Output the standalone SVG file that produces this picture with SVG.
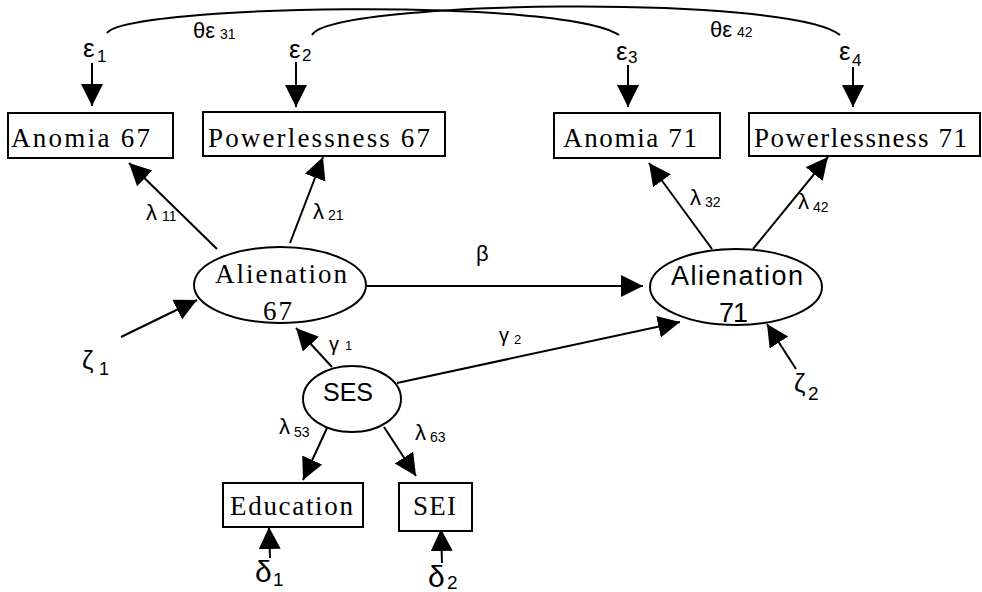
<svg xmlns="http://www.w3.org/2000/svg" width="982" height="592" viewBox="0 0 982 592">
<defs>
<style>
.box{fill:#fff;stroke:#000;stroke-width:2}
.ell{fill:#fff;stroke:#000;stroke-width:2}
.ser{font-family:"Liberation Serif","Times New Roman",serif;font-size:27px;fill:#000}
.san{font-family:"Liberation Sans",Arial,sans-serif;fill:#000}
.gk{font-family:"Liberation Sans","DejaVu Sans",Arial,sans-serif;fill:#000}
.ln{stroke:#000;stroke-width:2;fill:none}
.arr{stroke:#000;stroke-width:2;fill:none;marker-end:url(#ah)}
</style>
<marker id="ah" markerUnits="userSpaceOnUse" markerWidth="24" markerHeight="24" refX="22" refY="11" orient="auto">
<path d="M0,0 L22,11 L0,22 z" fill="#000"/>
</marker>
</defs>
<rect width="982" height="592" fill="#fff"/>

<g id="connectors">
<path class="ln" d="M107,33 C125,5 560,-3 619,35"/>
<path class="ln" d="M312,35 C330,0 790,-6 840,35"/>
<line class="arr" x1="92" y1="63" x2="92" y2="106"/>
<line class="arr" x1="296" y1="62" x2="296" y2="107"/>
<line class="arr" x1="628" y1="65" x2="628" y2="107"/>
<line class="arr" x1="853" y1="67" x2="853" y2="107"/>
<line class="arr" x1="217" y1="249" x2="129" y2="163"/>
<line class="arr" x1="290" y1="243" x2="323" y2="157"/>
<line class="arr" x1="712" y1="249" x2="649" y2="163"/>
<line class="arr" x1="753" y1="249" x2="828" y2="157"/>
<line class="arr" x1="366" y1="286" x2="643" y2="286"/>
<line class="arr" x1="397" y1="383" x2="680" y2="322"/>
<line class="arr" x1="332" y1="367" x2="296" y2="328"/>
<line class="arr" x1="121" y1="337" x2="197" y2="300"/>
<line class="arr" x1="796" y1="369" x2="767" y2="324"/>
<line class="arr" x1="327" y1="428" x2="303" y2="480"/>
<line class="arr" x1="384" y1="427" x2="416" y2="476"/>
<line class="arr" x1="270" y1="558" x2="269" y2="527"/>
<line class="arr" x1="442" y1="563" x2="441" y2="529"/>
</g>

<g id="anomia67"><rect class="box" x="8" y="113" width="165" height="45"/><text class="ser" x="11" y="147" textLength="139" lengthAdjust="spacing">Anomia 67</text></g>
<g id="powerlessness67"><rect class="box" x="203" y="112" width="242" height="44"/><text class="ser" x="208" y="147" textLength="222" lengthAdjust="spacing">Powerlessness 67</text></g>
<g id="anomia71"><rect class="box" x="554" y="113" width="166" height="45"/><text class="ser" x="563" y="147" textLength="134" lengthAdjust="spacing">Anomia 71</text></g>
<g id="powerlessness71"><rect class="box" x="749" y="113" width="231" height="43"/><text class="ser" x="754" y="147" textLength="213" lengthAdjust="spacing">Powerlessness 71</text></g>
<g id="education"><rect class="box" x="223" y="483" width="140" height="44"/><text class="ser" x="230" y="515" textLength="123" lengthAdjust="spacing">Education</text></g>
<g id="sei"><rect class="box" x="399" y="483" width="73" height="48"/><text class="ser" x="413" y="515" textLength="43" lengthAdjust="spacing">SEI</text></g>

<g id="alienation67"><ellipse class="ell" cx="280" cy="285" rx="86" ry="38"/><text class="ser" x="215" y="283" textLength="132" lengthAdjust="spacing">Alienation</text><text class="ser" x="263" y="320" textLength="29" lengthAdjust="spacing">67</text></g>
<g id="alienation71"><ellipse class="ell" cx="736" cy="287" rx="86" ry="38"/><text class="san" font-size="27" x="671" y="285" textLength="132" lengthAdjust="spacing">Alienation</text><text class="san" font-size="27" x="719" y="322" textLength="29" lengthAdjust="spacing">71</text></g>
<g id="ses"><ellipse class="ell" cx="352" cy="399" rx="49" ry="33"/><text class="san" font-size="26" x="323" y="401" textLength="50" lengthAdjust="spacingAndGlyphs">SES</text></g>

<g id="labels" class="gk">
<text x="83" y="57" font-size="26">ε<tspan x="97" y="62" font-size="17">1</tspan></text>
<text x="289" y="58" font-size="26">ε<tspan x="302" y="61" font-size="17">2</tspan></text>
<text x="616" y="60" font-size="26">ε<tspan x="628" y="63" font-size="17">3</tspan></text>
<text x="839" y="60" font-size="26">ε<tspan x="852" y="66" font-size="17">4</tspan></text>
<text x="193" y="38" font-size="22">θε<tspan x="220" y="39" font-size="14">31</tspan></text>
<text x="710" y="37" font-size="22">θε<tspan x="737" y="37" font-size="14">42</tspan></text>
<text x="146" y="220" font-size="22">λ<tspan x="162" y="221" font-size="14">11</tspan></text>
<text x="313" y="219" font-size="22">λ<tspan x="328" y="220" font-size="14">21</tspan></text>
<text x="690" y="205" font-size="22">λ<tspan x="705" y="207" font-size="14">32</tspan></text>
<text x="798" y="209" font-size="22">λ<tspan x="813" y="212" font-size="14">42</tspan></text>
<text x="279" y="434" font-size="22">λ<tspan x="294" y="437" font-size="14">53</tspan></text>
<text x="415" y="440" font-size="22">λ<tspan x="430" y="442" font-size="14">63</tspan></text>
<text x="476" y="261" font-size="22">β</text>
<text x="329" y="351" font-size="20">γ<tspan x="345" y="350" font-size="13">1</tspan></text>
<text x="499" y="342" font-size="20">γ<tspan x="514" y="344" font-size="13">2</tspan></text>
<text x="82" y="369" font-size="26">ζ<tspan x="99" y="375" font-size="18">1</tspan></text>
<text x="794" y="392" font-size="26">ζ<tspan x="808" y="400" font-size="19">2</tspan></text>
<text x="255" y="582" font-size="30">δ<tspan x="273" y="586" font-size="19">1</tspan></text>
<text x="428" y="587" font-size="30">δ<tspan x="447" y="589" font-size="19">2</tspan></text>
</g>
</svg>
